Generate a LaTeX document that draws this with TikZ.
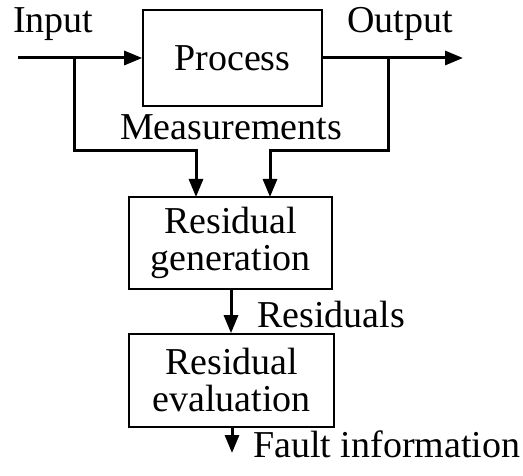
\documentclass[tikz,border=0pt]{standalone}
\usepackage{fontspec}
\setmainfont{Liberation Serif}
\usetikzlibrary{arrows.meta}
\begin{document}
\begin{tikzpicture}[x=1pt,y=-1pt,
  blk/.style={draw,line width=1.6pt,inner sep=0pt,align=center,font=\fontsize{38}{37}\selectfont},
  lbl/.style={inner sep=0pt,anchor=base west,font=\fontsize{38}{37}\selectfont},
  conn/.style={line width=3pt,-{Triangle[length=18pt,width=14pt]}},
  wire/.style={line width=3pt}]
\useasboundingbox (0,0) rectangle (523,476);
\node[blk,minimum width=179pt,minimum height=96pt] (process) at (232.5,58) {Process};
\node[blk,minimum width=203pt,minimum height=92pt] (resgen) at (230.5,243) {Residual\\generation};
\node[blk,minimum width=205pt,minimum height=93pt] (reseval) at (231.5,380.5) {Residual\\evaluation};
\coordinate (in) at (18,58);
\coordinate (out) at (463,58);
\coordinate (ja) at (74,58);
\coordinate (jb) at (388,58);
\coordinate (fault) at (232,453);
\node[lbl] (linput) at (13,33) {Input};
\node[lbl] (loutput) at (347,33) {Output};
\node[lbl] (lmeas) at (120,140) {Measurements};
\node[lbl] (lres) at (257,327) {Residuals};
\node[lbl] (lfault) at (253,457) {Fault information};
\draw[conn] (in) -- (process.west);
\draw[conn] (process.east) -- (out);
\draw[conn] (ja) |- (196,151) -- (196,197);
\draw[conn] (jb) |- (270,151) -- (270,197);
\draw[conn] (resgen.south -| 231,0) -- (reseval.north -| 231,0);
\draw[conn] (reseval.south -| fault) -- (fault);
\end{tikzpicture}
\end{document}
